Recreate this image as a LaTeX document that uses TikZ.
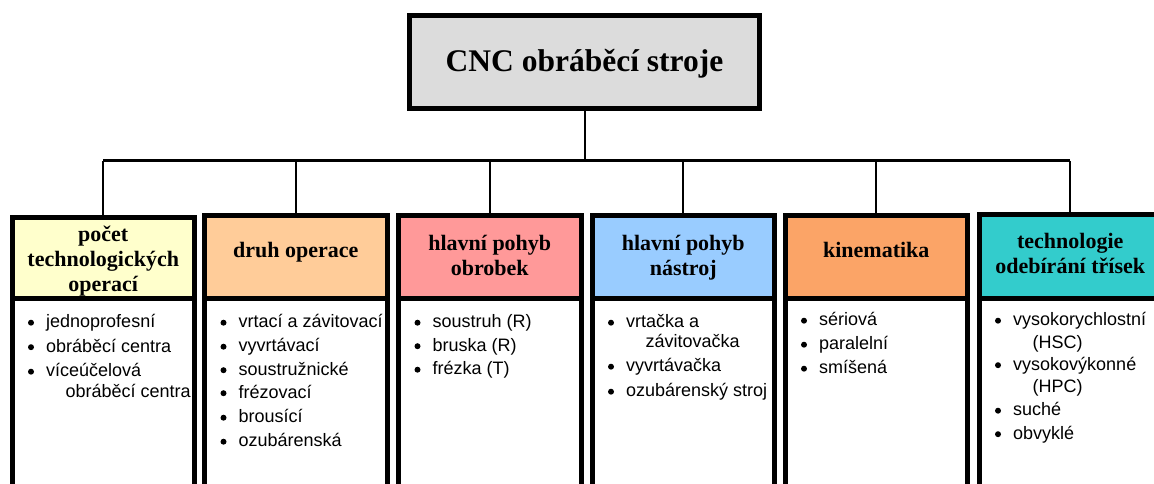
\documentclass[tikz,border=0pt]{standalone}
\usepackage{fontspec}
\setmainfont{Liberation Serif}
\newfontfamily\sansf{Liberation Sans}
\definecolor{topgray}{HTML}{DCDCDC}
\definecolor{cA}{HTML}{FFFFCC}
\definecolor{cB}{HTML}{FFCC99}
\definecolor{cC}{HTML}{FF9999}
\definecolor{cD}{HTML}{99CCFF}
\definecolor{cE}{HTML}{FBA467}
\definecolor{cF}{HTML}{33CCCC}
\newcommand\bitem[4]{%
  \fill ({#2-15},{#3-4.8}) circle[radius=3pt];
  \node[itemtext] (#1) at (#2,#3) {#4};}
\newcommand\citem[4]{\node[itemtext] (#1) at (#2,#3) {#4};}
\begin{document}
\begin{tikzpicture}[x=1pt,y=-1pt,
  topbox/.style={draw, line width=5pt, fill=topgray, minimum width=350pt, minimum height=93pt,
    inner sep=0pt, font=\fontsize{31.5}{36}\selectfont\bfseries, text height=24pt, text depth=5pt},
  hbox/.style={draw, line width=5pt, minimum width=182.5pt, inner sep=0pt, rectangle},
  bbox/.style={draw, line width=5pt, fill=white, minimum width=182.5pt, minimum height=232pt, inner sep=0pt, rectangle},
  htext/.style={anchor=base, inner sep=0pt, font=\fontsize{22}{25}\selectfont\bfseries},
  itemtext/.style={anchor=base west, inner sep=0pt, font=\sansf\fontsize{18}{21}\selectfont},
  conn/.style={line width=2pt},
  barline/.style={line width=3pt}]
\useasboundingbox (0,0) rectangle (1154,484);
\clip (0,0) rectangle (1154,484);

% top box
\node[topbox] (top) at (584.5,62) {CNC obráběcí stroje};

% bodies
\node[bbox] (b1) at (103.25,414) {};
\node[bbox] (b2) at (295.75,414) {};
\node[bbox] (b3) at (489.75,414) {};
\node[bbox] (b4) at (683.25,414) {};
\node[bbox] (b5) at (876.25,414) {};
\node[bbox] (b6) at (1070.25,414) {};

% headers
\node[hbox, fill=cA, minimum height=80.5pt] (h1) at (103.25,257.75) {};
\node[hbox, fill=cB, minimum height=82.5pt] (h2) at (295.75,256.75) {};
\node[hbox, fill=cC, minimum height=82.5pt] (h3) at (489.75,256.75) {};
\node[hbox, fill=cD, minimum height=82.5pt] (h4) at (683.25,256.75) {};
\node[hbox, fill=cE, minimum height=82.5pt] (h5) at (876.25,256.75) {};
\node[hbox, fill=cF, minimum height=83.5pt] (h6) at (1070.25,256.25) {};

% connectors
\coordinate (bar) at (586.5,161);
\draw[conn] (top.south) -- (top.south |- bar);
\draw[barline] (h1.north |- bar) -- (h6.north |- bar);
\foreach \h in {h1,h2,h3,h4,h5,h6}
  \draw[conn] (\h.north |- bar) -- (\h.north);

% header texts
\node[htext] (t1a) at (103.25,241) {počet};
\node[htext] (t1b) at (103.25,266) {technologických};
\node[htext] (t1c) at (103.25,291) {operací};
\node[htext] (t2a) at (295.75,257) {druh operace};
\node[htext] (t3a) at (489.75,250) {hlavní pohyb};
\node[htext] (t3b) at (489.75,275) {obrobek};
\node[htext] (t4a) at (683.25,250) {hlavní pohyb};
\node[htext] (t4b) at (683.25,275) {nástroj};
\node[htext] (t5a) at (876.25,257) {kinematika};
\node[htext] (t6a) at (1070.25,248) {technologie};
\node[htext] (t6b) at (1070.25,273) {odebírání třísek};

% lists
\bitem{l1a}{46}{327.5}{jednoprofesní}
\bitem{l1b}{46}{352}{obráběcí centra}
\bitem{l1c}{46}{376.5}{víceúčelová}
\citem{l1d}{65.5}{397.5}{obráběcí centra}

\bitem{l2a}{238.5}{327.5}{vrtací a závitovací}
\bitem{l2b}{238.5}{351.5}{vyvrtávací}
\bitem{l2c}{238.5}{375}{soustružnické}
\bitem{l2d}{238.5}{398}{frézovací}
\bitem{l2e}{238.5}{422.5}{brousící}
\bitem{l2f}{238.5}{446.5}{ozubárenská}

\bitem{l3a}{432.5}{327.5}{soustruh (R)}
\bitem{l3b}{432.5}{351}{bruska (R)}
\bitem{l3c}{432.5}{374.5}{frézka (T)}

\bitem{l4a}{626}{327.5}{vrtačka a}
\citem{l4b}{645.5}{347.5}{závitovačka}
\bitem{l4c}{626}{371.5}{vyvrtávačka}
\bitem{l4d}{626}{396.5}{ozubárenský stroj}

\bitem{l5a}{819}{325.5}{sériová}
\bitem{l5b}{819}{349.5}{paralelní}
\bitem{l5c}{819}{373.5}{smíšená}

\bitem{l6a}{1013}{325.5}{vysokorychlostní}
\citem{l6b}{1032.5}{348}{(HSC)}
\bitem{l6c}{1013}{370}{vysokovýkonné}
\citem{l6d}{1032.5}{392.5}{(HPC)}
\bitem{l6e}{1013}{415.5}{suché}
\bitem{l6f}{1013}{439}{obvyklé}
\end{tikzpicture}
\end{document}
